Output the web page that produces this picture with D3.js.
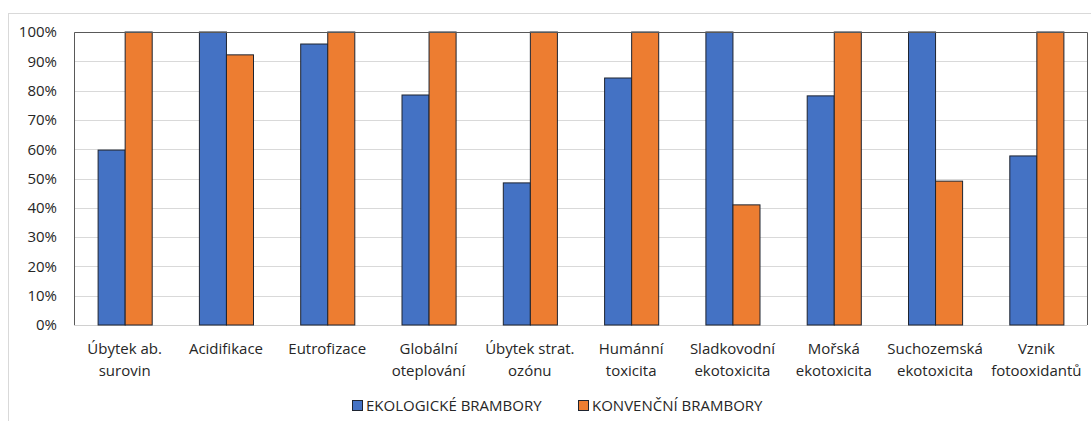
<!DOCTYPE html>
<html><head><meta charset="utf-8">
<script src="https://cdn.jsdelivr.net/npm/d3@7/dist/d3.min.js"></script>
<style>
body{margin:0;background:#fff;}
text{font-family:"Open Sans","Noto Sans",sans-serif;fill:#262626;}
</style></head>
<body><svg id="c" width="1091" height="421"></svg>
<script>
const categories = [
  ["Úbytek ab.","surovin"],["Acidifikace"],["Eutrofizace"],["Globální","oteplování"],
  ["Úbytek strat.","ozónu"],["Humánní","toxicita"],["Sladkovodní","ekotoxicita"],
  ["Mořská","ekotoxicita"],["Suchozemská","ekotoxicita"],["Vznik","fotooxidantů"]
];
const seriesNames = ["EKOLOGICKÉ BRAMBORY","KONVENČNÍ BRAMBORY"];
const ekologicke = [59.7,100,95.9,78.5,48.5,84.3,100,78.2,100,57.7];
const konvencni  = [100,92.2,100,100,100,100,41.0,100,49.1,100];
const yTicks = [0,10,20,30,40,50,60,70,80,90,100];
const colors = ["#4472C4","#ED7D31"];

const svg = d3.select("#c");
const m = {l:74, r:1087, t:32, b:325};
svg.append("rect").attr("x",8.5).attr("y",13.5).attr("width",1100).attr("height",420)
  .attr("fill","none").attr("stroke","#d9d9d9");

const x = d3.scaleBand().domain(d3.range(categories.length)).range([m.l,m.r]).paddingInner(0).paddingOuter(0);
const x1 = d3.scaleBand().domain([0,1]).range([x.bandwidth()*0.233, x.bandwidth()*0.767]);
const y = d3.scaleLinear().domain([0,100]).range([m.b,m.t]);

// gridlines
svg.append("g").selectAll("line").data(yTicks).join("line")
  .attr("x1",m.l).attr("x2",m.r).attr("y1",d=>Math.round(y(d))+0.5).attr("y2",d=>Math.round(y(d))+0.5)
  .attr("stroke",d=>d===0?"#d0d0d0":"#d9d9d9").attr("stroke-width",1);

// y axis labels
const ya = d3.axisLeft(y).tickValues(yTicks).tickFormat(d=>d+"%").tickSize(0).tickPadding(17);
const yg = svg.append("g").attr("transform",`translate(${m.l},0)`).call(ya);
yg.select(".domain").remove();
yg.selectAll("text").attr("font-size",15).attr("fill","#262626").style("font-family","'Open Sans',sans-serif");

// bars
const data = categories.map((c,i)=>[ekologicke[i],konvencni[i]]);
const g = svg.append("g").selectAll("g").data(data).join("g").attr("transform",(d,i)=>`translate(${x(i)},0)`);
g.selectAll("rect").data(d=>d).join("rect")
  .attr("x",(d,j)=>x1(j)+0.5).attr("width",x1.bandwidth())
  .attr("y",d=>y(d)).attr("height",d=>y(0)-y(d))
  .attr("fill",(d,j)=>colors[j]).attr("stroke","#1e2430").attr("stroke-width",1);

// plot border (top, left, right)
svg.append("path").attr("d",`M${m.l+0.5},${m.b}V${m.t+0.5}H${m.r+0.5}V${m.b}`)
  .attr("fill","none").attr("stroke","#595959").attr("stroke-width",1);

// x labels
const xl = svg.append("g").selectAll("text").data(categories).join("text")
  .attr("text-anchor","middle").attr("font-size",15)
  .attr("x",(d,i)=>x(i)+x.bandwidth()/2).attr("y",354);
xl.selectAll("tspan").data(d=>d).join("tspan")
  .attr("x",function(){return this.parentNode.getAttribute("x");})
  .attr("dy",(d,k)=>k===0?0:22).text(d=>d);

// legend
const leg = [{x:352,t:seriesNames[0],c:colors[0]},{x:578,t:seriesNames[1],c:colors[1]}];
const lg = svg.append("g").selectAll("g").data(leg).join("g").attr("transform",d=>`translate(${d.x},0)`);
lg.append("rect").attr("x",0.5).attr("y",400.5).attr("width",10).attr("height",10).attr("fill",d=>d.c).attr("stroke","#1e2430");
lg.append("text").attr("x",14).attr("y",411).attr("font-size",15).text(d=>d.t);
</script></body></html>
